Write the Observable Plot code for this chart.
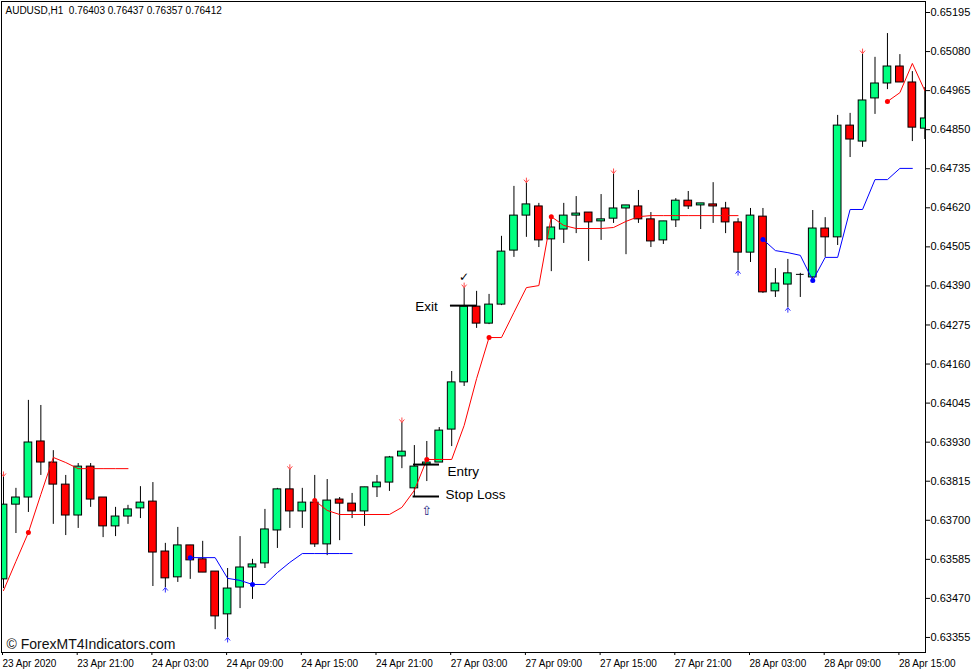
<!DOCTYPE html>
<html><head><meta charset="utf-8">
<script src="https://cdn.jsdelivr.net/npm/d3@7"></script>
<script src="https://cdn.jsdelivr.net/npm/@observablehq/plot@0.6"></script>
<style>html,body{margin:0;padding:0;background:#fff;}</style>
</head><body><div id="chart"></div>
<script>
// ---------- data ----------
const titleText = "AUDUSD,H1\u00a0\u00a00.76403 0.76437 0.76357 0.76412";
const watermark = "\u00a9 ForexMT4Indicators.com";

const openP = [
0.63526,0.63746,0.63767,0.63932,0.63870,0.63805,0.63714,0.63858,0.63767,0.63682,
0.63711,0.63735,0.63755,0.63608,0.63532,0.63626,0.63585,0.63549,0.63423,0.63502,
0.63561,0.63573,0.63670,0.63791,0.63726,0.63752,0.63629,0.63761,0.63749,0.63726,
0.63797,0.63811,0.63888,0.63794,0.63864,0.63870,0.63967,0.64106,0.64329,0.64279,
0.64335,0.64494,0.64597,0.64624,0.64527,0.64556,0.64597,0.64606,0.64580,0.64588,
0.64618,0.64624,0.64586,0.64524,0.64583,0.64641,0.64627,0.64630,0.64618,0.64577,
0.64488,0.64594,0.64374,0.64394,0.64424,0.64415,0.64559,0.64533,0.64862,0.64815,
0.64942,0.64986,0.65036,0.64989,0.64853];
const highP = [
0.63829,0.63794,0.64053,0.64038,0.63905,0.63832,0.63867,0.63867,0.63767,0.63738,
0.63744,0.63799,0.63811,0.63632,0.63679,0.63626,0.63638,0.63549,0.63558,0.63652,
0.63585,0.63732,0.63794,0.63850,0.63794,0.63832,0.63820,0.63767,0.63779,0.63797,
0.63832,0.63888,0.63988,0.63920,0.63932,0.63973,0.64138,0.64385,0.64374,0.64365,
0.64536,0.64683,0.64694,0.64633,0.64591,0.64633,0.64653,0.64606,0.64659,0.64721,
0.64627,0.64671,0.64606,0.64580,0.64647,0.64668,0.64633,0.64694,0.64636,0.64588,
0.64618,0.64618,0.64441,0.64468,0.64427,0.64612,0.64591,0.64892,0.64898,0.65074,
0.65063,0.65133,0.65071,0.65021,0.64974];
const lowP = [
0.63499,0.63661,0.63723,0.63832,0.63688,0.63655,0.63676,0.63738,0.63649,0.63652,
0.63688,0.63705,0.63505,0.63502,0.63517,0.63526,0.63546,0.63378,0.63355,0.63440,
0.63467,0.63558,0.63617,0.63676,0.63676,0.63620,0.63596,0.63640,0.63705,0.63682,
0.63767,0.63785,0.63852,0.63770,0.63814,0.63870,0.63917,0.64094,0.64265,0.64276,
0.64332,0.64474,0.64533,0.64503,0.64432,0.64515,0.64544,0.64462,0.64524,0.64574,
0.64482,0.64574,0.64503,0.64512,0.64562,0.64615,0.64556,0.64574,0.64544,0.64435,
0.64459,0.64368,0.64356,0.64326,0.64356,0.64412,0.64474,0.64509,0.64768,0.64798,
0.64895,0.64968,0.64989,0.64815,0.64821];
const closeP = [
0.63746,0.63767,0.63929,0.63870,0.63805,0.63714,0.63858,0.63761,0.63682,0.63711,
0.63732,0.63752,0.63605,0.63529,0.63626,0.63582,0.63546,0.63417,0.63499,0.63561,
0.63570,0.63673,0.63791,0.63726,0.63752,0.63629,0.63758,0.63749,0.63726,0.63797,
0.63811,0.63885,0.63902,0.63858,0.63870,0.63964,0.64106,0.64329,0.64279,0.64335,
0.64491,0.64597,0.64630,0.64524,0.64562,0.64597,0.64603,0.64577,0.64586,0.64618,
0.64627,0.64586,0.64521,0.64580,0.64641,0.64624,0.64633,0.64624,0.64577,0.64488,
0.64597,0.64371,0.64397,0.64427,0.64424,0.64559,0.64533,0.64862,0.64821,0.64936,
0.64986,0.65036,0.64989,0.64856,0.64883];

const N = null;
const redLine = [
0.63493,0.63579,0.63664,0.63776,0.63885,0.63870,0.63852,0.63852,0.63852,0.63852,
0.63852,N,N,N,N,N,N,N,N,N,
N,N,N,N,N,0.63758,0.63729,0.63717,0.63717,0.63717,
0.63717,0.63717,0.63738,0.63788,0.63879,0.63879,0.63879,0.63979,0.64117,0.64238,
0.64238,0.64312,0.64385,0.64391,0.64594,0.64568,0.64559,0.64559,0.64559,0.64562,
0.64580,0.64594,0.64597,0.64597,0.64597,0.64597,0.64597,0.64597,0.64597,0.64597,
N,N,N,N,N,N,N,N,N,N,
N,0.64933,0.64959,0.65045,0.64965];
const blueLine = [
N,N,N,N,N,N,N,N,N,N,
N,N,N,N,N,0.63590,0.63590,0.63590,0.63529,0.63523,
0.63511,0.63511,0.63546,0.63576,0.63602,0.63602,0.63602,0.63602,0.63602,N,
N,N,N,N,N,N,N,N,N,N,
N,N,N,N,N,N,N,N,N,N,
N,N,N,N,N,N,N,N,N,N,
N,0.64527,0.64494,0.64488,0.64480,0.64406,0.64474,0.64474,0.64615,0.64615,
0.64703,0.64703,0.64736,0.64736,N];

const redDotBars = [2,25,34,39,44,71];
const blueDotBars = [15,20,61,65];
const sellArrowBars = [0,23,32,37,42,49,69];
const buyArrowBars = [13,18,59,63];

const xTickBars = [0,6,12,18,24,30,36,42,48,54,60,66,72];
const xTickLabels = ["23 Apr 2020","23 Apr 21:00","24 Apr 03:00","24 Apr 09:00","24 Apr 15:00",
  "24 Apr 21:00","27 Apr 03:00","27 Apr 09:00","27 Apr 15:00","27 Apr 21:00",
  "28 Apr 03:00","28 Apr 09:00","28 Apr 15:00"];
const yTicks = [0.65195,0.65080,0.64965,0.64850,0.64735,0.64620,0.64505,0.64390,0.64275,
  0.64160,0.64045,0.63930,0.63815,0.63700,0.63585,0.63470,0.63355];

// trade annotation levels (bar index range, price)
const levelNames = ["Exit","Entry","Stop Loss"];
const levelPrices = [0.64332,0.63864,0.63770];
const levelFrom = [35.9,32.93,32.9];
const levelTo = [37.99,35.02,35.02];
const labelBars = [34.88,35.66,35.5];
const labelPrices = [0.64328,0.63843,0.63775];
const labelSide = ["end","start","start"];
const checkBar = 37;
const upArrowBar = 34, upArrowPrice = 0.63729;

// ---------- build ----------
const candles = openP.map((o,i)=>({i, o, h:highP[i], l:lowP[i], c:closeP[i]}));
const bodies = candles.filter(d=>d.c!==d.o);
const dojis = candles.filter(d=>d.c===d.o);
const red = redLine.map((v,i)=>({i,v}));
const blue = blueLine.map((v,i)=>({i,v}));
const levels = levelNames.map((n,k)=>({n, p:levelPrices[k], a:levelFrom[k], b:levelTo[k],
  lx:labelBars[k], ly:labelPrices[k], side:labelSide[k]}));

const GREEN = "#00ff7f", RED = "#ff0000";
const hw = 0.31;

const downArrow = {draw(ctx){ ctx.moveTo(0,-5); ctx.lineTo(0,0); ctx.moveTo(-2.5,-3); ctx.lineTo(0,0); ctx.lineTo(2.5,-3); }};
const upArrow = {draw(ctx){ ctx.moveTo(0,5); ctx.lineTo(0,0); ctx.moveTo(-2.5,3); ctx.lineTo(0,0); ctx.lineTo(2.5,3); }};

const chart = Plot.plot({
  width: 977, height: 672,
  marginLeft: 1, marginRight: 52, marginTop: 1, marginBottom: 20,
  style: {fontFamily: "'Liberation Sans', Arial, sans-serif", fontSize: "10px", background: "#fff", color: "#000"},
  x: {type: "linear", domain: [-0.1606, 74.0562], axis: null},
  y: {type: "linear", domain: [0.633107, 0.652274], axis: null},
  color: {type: "identity"},
  marks: [
    Plot.ruleX(candles, {x: "i", y1: "l", y2: "h", stroke: "#000", strokeWidth: 1, clip: true}),
    Plot.rect(bodies, {x1: d=>d.i-hw, x2: d=>d.i+hw, y1: "o", y2: "c",
      fill: d=> d.c>d.o ? GREEN : RED, stroke: "#000", strokeWidth: 1, clip: true}),
    Plot.ruleY(dojis, {y: "o", x1: d=>d.i-hw, x2: d=>d.i+hw, stroke: "#000", clip: true}),
    Plot.line(red, {x: "i", y: "v", stroke: "#ff0000", strokeWidth: 1, clip: true}),
    Plot.line(blue, {x: "i", y: "v", stroke: "#0000ff", strokeWidth: 1, clip: true}),
    Plot.dot(redDotBars, {x: d=>d, y: d=>redLine[d], r: 2.5, fill: "#ff0000"}),
    Plot.dot(blueDotBars, {x: d=>d, y: d=>blueLine[d], r: 2.5, fill: "#0000ff"}),
    Plot.dot(sellArrowBars, {x: d=>d, y: d=>highP[d], symbol: downArrow, r: 3, fill: "none", stroke: "#ff4a4a", strokeWidth: 1}),
    Plot.dot(buyArrowBars, {x: d=>d, y: d=>lowP[d], symbol: upArrow, r: 3, fill: "none", stroke: "#3030ff", strokeWidth: 1}),
    Plot.ruleY(levels, {y: "p", x1: "a", x2: "b", stroke: "#000", strokeWidth: 2}),
    Plot.text(levels.filter(d=>d.side==="start"), {x: "lx", y: "ly", text: "n", textAnchor: "start", fontSize: 13.5, fill: "#000"}),
    Plot.text(levels.filter(d=>d.side==="end"), {x: "lx", y: "ly", text: "n", textAnchor: "end", fontSize: 13.5, fill: "#000"}),
    Plot.text([checkBar], {x: d=>d, y: d=>highP[d], text: ()=>"\u2713", dy: -10, fontSize: 12, fontFamily: "DejaVu Sans", fill: "#000"}),
    Plot.text([upArrowBar], {x: d=>d, y: ()=>upArrowPrice, text: ()=>"\u21e7", fontSize: 13, fontFamily: "DejaVu Sans", fill: "#1a237e"}),
    Plot.axisY({anchor: "right", ticks: yTicks, tickFormat: d=>d.toFixed(5), tickSize: 4, tickPadding: 1, fontSize: 11, label: null}),
    Plot.axisX({anchor: "bottom", ticks: xTickBars, tickFormat: d=>xTickLabels[xTickBars.indexOf(d)], tickSize: 3, tickPadding: 4, textAnchor: "start", dx: -1, fontSize: 10, label: null}),
    Plot.frame({stroke: "#000"}),
    Plot.text([titleText], {text: d=>d, frameAnchor: "top-left", dx: 4, dy: 5, lineAnchor: "top", textAnchor: "start", fontSize: 10, fill: "#000"}),
    Plot.text([watermark], {text: d=>d, frameAnchor: "bottom-left", dx: 5, dy: -4, lineAnchor: "bottom", textAnchor: "start", fontSize: 14, fill: "#111"})
  ]
});
document.getElementById("chart").appendChild(chart);
</script></body></html>
